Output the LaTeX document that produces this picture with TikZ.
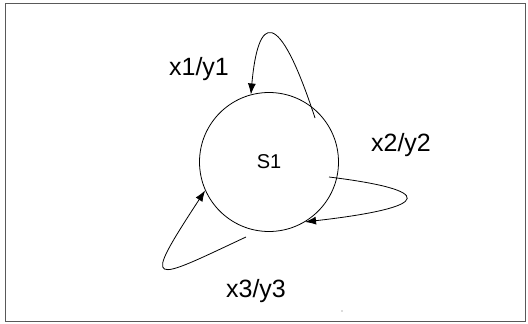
\documentclass[tikz,border=0pt]{standalone}
\usepackage{fontspec}
\setmainfont{Liberation Sans}
\usetikzlibrary{arrows.meta}
\begin{document}
\begin{tikzpicture}[x=1pt,y=-1pt,
  line width=0.8pt,
  state/.style={draw,circle,minimum size=139pt,inner sep=0pt,font=\fontsize{20}{22}\selectfont},
  lbl/.style={font=\fontsize{25}{28}\selectfont,inner sep=0pt},
  trans/.style={-{Latex[length=11pt,width=8pt]}}]
\useasboundingbox (0,0) rectangle (528,324);
\draw[draw=black!65,line width=1pt] (5,3) rectangle (525,321);
\node[state] (s1) at (269,162) {S1};
\coordinate (a1) at (315,118);
\coordinate (a2) at (329,177);
\coordinate (a3) at (246,237);
\draw[trans] (a1) .. controls (278,5) and (258,15) .. (s1.105);
\draw[trans] (a2) .. controls (435,190) and (436,207) .. (s1.-59);
\draw[trans] (a3) .. controls (150,282) and (140,290) .. (s1.204);
\node[lbl] (l1) at (199,69) {x1/y1};
\node[lbl] (l2) at (401,145) {x2/y2};
\node[lbl] (l3) at (256,291) {x3/y3};
\fill[black!60] (342,311) circle (0.6pt);
\end{tikzpicture}
\end{document}
